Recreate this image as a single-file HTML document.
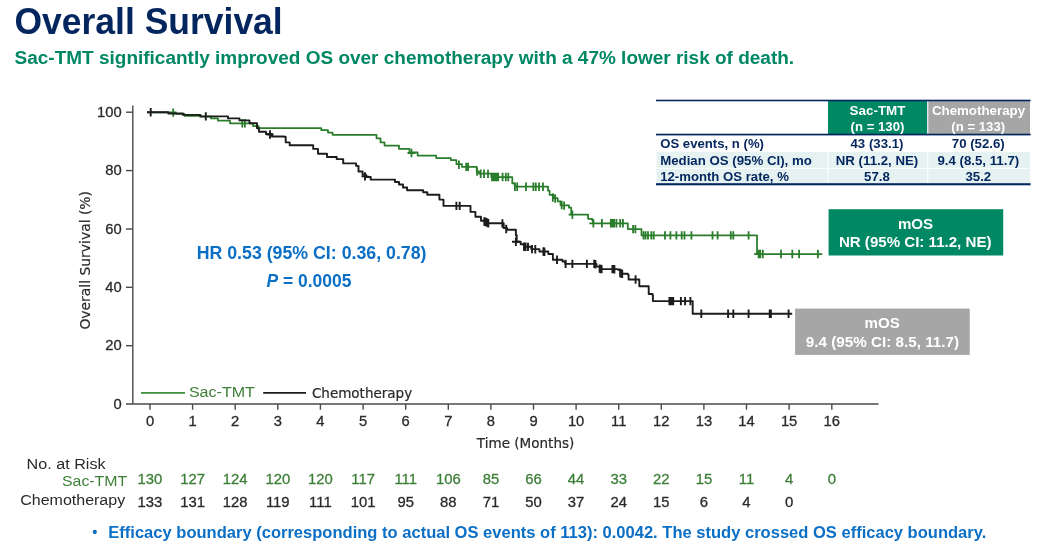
<!DOCTYPE html>
<html lang="en">
<head>
<meta charset="utf-8">
<title>Overall Survival</title>
<style>
html,body{margin:0;padding:0;background:#fff;}
body{width:1045px;height:556px;overflow:hidden;font-family:"Liberation Sans", Arial, Helvetica, sans-serif;}
svg{display:block;will-change:transform;}
text{white-space:pre;}
</style>
</head>
<body>
<svg width="1045" height="556" viewBox="0 0 1045 556">
<rect width="1045" height="556" fill="#ffffff"/>
<text x="14.5" y="34.1" font-family='"Liberation Sans", Arial, Helvetica, sans-serif' font-size="36.4" fill="#04265f" font-weight="bold" textLength="268.2" lengthAdjust="spacingAndGlyphs">Overall Survival</text>
<text x="14.6" y="63.6" font-family='"Liberation Sans", Arial, Helvetica, sans-serif' font-size="18.9" fill="#008764" font-weight="bold" textLength="779.5" lengthAdjust="spacingAndGlyphs">Sac-TMT significantly improved OS over chemotherapy with a 47% lower risk of death.</text>
<g id="stats">
<rect x="828" y="101" width="99.5" height="33.5" fill="#008764"/>
<rect x="927.5" y="101" width="102.5" height="33.5" fill="#a6a6a6"/>
<rect x="656.6" y="151.8" width="373.4" height="32" fill="#e5f2f1"/>
<rect x="656.6" y="167.8" width="373.4" height="1" fill="#ffffff"/>
<rect x="827.3" y="151.8" width="1" height="32" fill="#ffffff"/>
<rect x="927.3" y="101" width="1" height="83" fill="#ffffff"/>
<rect x="656" y="99.7" width="374.6" height="1.6" fill="#04265f"/>
<rect x="656" y="133.7" width="374.6" height="1.7" fill="#04265f"/>
<rect x="656" y="183.2" width="374.6" height="2.1" fill="#04265f"/>
<text x="877.5" y="114.7" font-family='"Liberation Sans", Arial, Helvetica, sans-serif' font-size="13.3" fill="#fff" font-weight="bold" text-anchor="middle" textLength="55.9" lengthAdjust="spacingAndGlyphs">Sac-TMT</text>
<text x="877.5" y="130.6" font-family='"Liberation Sans", Arial, Helvetica, sans-serif' font-size="13.3" fill="#fff" font-weight="bold" text-anchor="middle" textLength="53.8" lengthAdjust="spacingAndGlyphs">(n = 130)</text>
<text x="978.5" y="114.7" font-family='"Liberation Sans", Arial, Helvetica, sans-serif' font-size="13.3" fill="#fff" font-weight="bold" text-anchor="middle" textLength="93.2" lengthAdjust="spacingAndGlyphs">Chemotherapy</text>
<text x="978.2" y="130.6" font-family='"Liberation Sans", Arial, Helvetica, sans-serif' font-size="13.3" fill="#fff" font-weight="bold" text-anchor="middle" textLength="53.8" lengthAdjust="spacingAndGlyphs">(n = 133)</text>
<text x="660.2" y="148.4" font-family='"Liberation Sans", Arial, Helvetica, sans-serif' font-size="13.3" fill="#04265f" font-weight="bold" textLength="103.8" lengthAdjust="spacingAndGlyphs">OS events, n (%)</text>
<text x="877.0" y="148.4" font-family='"Liberation Sans", Arial, Helvetica, sans-serif' font-size="13.3" fill="#04265f" font-weight="bold" text-anchor="middle" textLength="53.0" lengthAdjust="spacingAndGlyphs">43 (33.1)</text>
<text x="978.3" y="148.4" font-family='"Liberation Sans", Arial, Helvetica, sans-serif' font-size="13.3" fill="#04265f" font-weight="bold" text-anchor="middle" textLength="53.0" lengthAdjust="spacingAndGlyphs">70 (52.6)</text>
<text x="660.2" y="164.9" font-family='"Liberation Sans", Arial, Helvetica, sans-serif' font-size="13.3" fill="#04265f" font-weight="bold" textLength="151.6" lengthAdjust="spacingAndGlyphs">Median OS (95% CI), mo</text>
<text x="877.0" y="164.9" font-family='"Liberation Sans", Arial, Helvetica, sans-serif' font-size="13.3" fill="#04265f" font-weight="bold" text-anchor="middle" textLength="82.5" lengthAdjust="spacingAndGlyphs">NR (11.2, NE)</text>
<text x="978.3" y="164.9" font-family='"Liberation Sans", Arial, Helvetica, sans-serif' font-size="13.3" fill="#04265f" font-weight="bold" text-anchor="middle" textLength="81.8" lengthAdjust="spacingAndGlyphs">9.4 (8.5, 11.7)</text>
<text x="660.2" y="180.6" font-family='"Liberation Sans", Arial, Helvetica, sans-serif' font-size="13.3" fill="#04265f" font-weight="bold" textLength="128.7" lengthAdjust="spacingAndGlyphs">12-month OS rate, %</text>
<text x="877.0" y="180.6" font-family='"Liberation Sans", Arial, Helvetica, sans-serif' font-size="13.3" fill="#04265f" font-weight="bold" text-anchor="middle" textLength="25.8" lengthAdjust="spacingAndGlyphs">57.8</text>
<text x="978.3" y="180.6" font-family='"Liberation Sans", Arial, Helvetica, sans-serif' font-size="13.3" fill="#04265f" font-weight="bold" text-anchor="middle" textLength="25.8" lengthAdjust="spacingAndGlyphs">35.2</text>
</g>
<rect x="828.6" y="209.2" width="174.6" height="46.3" fill="#008764"/>
<text x="915.5" y="228.7" font-family='"Liberation Sans", Arial, Helvetica, sans-serif' font-size="15.1" fill="#fff" font-weight="bold" text-anchor="middle" textLength="35.2" lengthAdjust="spacingAndGlyphs">mOS</text>
<text x="915.2" y="246.9" font-family='"Liberation Sans", Arial, Helvetica, sans-serif' font-size="15.1" fill="#fff" font-weight="bold" text-anchor="middle" textLength="152.6" lengthAdjust="spacingAndGlyphs">NR (95% CI: 11.2, NE)</text>
<rect x="795.1" y="308.6" width="174.6" height="46.3" fill="#a6a6a6"/>
<text x="882.2" y="328.1" font-family='"Liberation Sans", Arial, Helvetica, sans-serif' font-size="15.1" fill="#fff" font-weight="bold" text-anchor="middle" textLength="35.2" lengthAdjust="spacingAndGlyphs">mOS</text>
<text x="882.4" y="346.5" font-family='"Liberation Sans", Arial, Helvetica, sans-serif' font-size="15.1" fill="#fff" font-weight="bold" text-anchor="middle" textLength="153.2" lengthAdjust="spacingAndGlyphs">9.4 (95% CI: 8.5, 11.7)</text>
<text x="311.6" y="259.1" font-family='"Liberation Sans", Arial, Helvetica, sans-serif' font-size="17.6" fill="#0b6fc6" font-weight="bold" text-anchor="middle" textLength="229.8" lengthAdjust="spacingAndGlyphs">HR 0.53 (95% CI: 0.36, 0.78)</text>
<text x="308.9" y="286.5" font-family='"Liberation Sans", Arial, Helvetica, sans-serif' font-size="17.6" fill="#0b6fc6" font-weight="bold" text-anchor="middle" textLength="85" lengthAdjust="spacingAndGlyphs"><tspan font-style="italic">P</tspan> = 0.0005</text>
<text x="94.9" y="537.2" font-family='"Liberation Sans", Arial, Helvetica, sans-serif' font-size="14.5" fill="#0b6fc6" font-weight="bold" text-anchor="middle">•</text>
<text x="108.3" y="538.0" font-family='"Liberation Sans", Arial, Helvetica, sans-serif' font-size="16.6" fill="#0b6fc6" font-weight="bold" textLength="878.0" lengthAdjust="spacingAndGlyphs">Efficacy boundary (corresponding to actual OS events of 113): 0.0042. The study crossed OS efficacy boundary.</text>
<g stroke="#4a4a4a" stroke-width="1.4" fill="none">
<path d="M132.8 105.5V404.05"/>
<path d="M126 404.05H878.5"/>
<path d="M126 345.7H132.8"/>
<path d="M126 287.3H132.8"/>
<path d="M126 229.0H132.8"/>
<path d="M126 170.6H132.8"/>
<path d="M126 112.2H132.8"/>
<path d="M150.0 404.05V409.7"/>
<path d="M192.6 404.05V409.7"/>
<path d="M235.2 404.05V409.7"/>
<path d="M277.8 404.05V409.7"/>
<path d="M320.4 404.05V409.7"/>
<path d="M363.1 404.05V409.7"/>
<path d="M405.7 404.05V409.7"/>
<path d="M448.3 404.05V409.7"/>
<path d="M490.9 404.05V409.7"/>
<path d="M533.5 404.05V409.7"/>
<path d="M576.1 404.05V409.7"/>
<path d="M618.7 404.05V409.7"/>
<path d="M661.3 404.05V409.7"/>
<path d="M703.9 404.05V409.7"/>
<path d="M746.5 404.05V409.7"/>
<path d="M789.1 404.05V409.7"/>
<path d="M831.8 404.05V409.7"/>
</g>
<text x="121.6" y="408.6" font-family='"Liberation Sans", Arial, Helvetica, sans-serif' font-size="13.9" fill="#2a2a2a" text-anchor="end" textLength="8.2" lengthAdjust="spacingAndGlyphs" stroke="#2a2a2a" stroke-width="0.28">0</text>
<text x="121.6" y="350.2" font-family='"Liberation Sans", Arial, Helvetica, sans-serif' font-size="13.9" fill="#2a2a2a" text-anchor="end" textLength="16.4" lengthAdjust="spacingAndGlyphs" stroke="#2a2a2a" stroke-width="0.28">20</text>
<text x="121.6" y="291.8" font-family='"Liberation Sans", Arial, Helvetica, sans-serif' font-size="13.9" fill="#2a2a2a" text-anchor="end" textLength="16.4" lengthAdjust="spacingAndGlyphs" stroke="#2a2a2a" stroke-width="0.28">40</text>
<text x="121.6" y="233.5" font-family='"Liberation Sans", Arial, Helvetica, sans-serif' font-size="13.9" fill="#2a2a2a" text-anchor="end" textLength="16.4" lengthAdjust="spacingAndGlyphs" stroke="#2a2a2a" stroke-width="0.28">60</text>
<text x="121.6" y="175.1" font-family='"Liberation Sans", Arial, Helvetica, sans-serif' font-size="13.9" fill="#2a2a2a" text-anchor="end" textLength="16.4" lengthAdjust="spacingAndGlyphs" stroke="#2a2a2a" stroke-width="0.28">80</text>
<text x="121.6" y="116.8" font-family='"Liberation Sans", Arial, Helvetica, sans-serif' font-size="13.9" fill="#2a2a2a" text-anchor="end" textLength="24.6" lengthAdjust="spacingAndGlyphs" stroke="#2a2a2a" stroke-width="0.28">100</text>
<text x="150.0" y="426.2" font-family='"Liberation Sans", Arial, Helvetica, sans-serif' font-size="13.9" fill="#2a2a2a" text-anchor="middle" textLength="8.2" lengthAdjust="spacingAndGlyphs" stroke="#2a2a2a" stroke-width="0.28">0</text>
<text x="192.6" y="426.2" font-family='"Liberation Sans", Arial, Helvetica, sans-serif' font-size="13.9" fill="#2a2a2a" text-anchor="middle" textLength="8.2" lengthAdjust="spacingAndGlyphs" stroke="#2a2a2a" stroke-width="0.28">1</text>
<text x="235.2" y="426.2" font-family='"Liberation Sans", Arial, Helvetica, sans-serif' font-size="13.9" fill="#2a2a2a" text-anchor="middle" textLength="8.2" lengthAdjust="spacingAndGlyphs" stroke="#2a2a2a" stroke-width="0.28">2</text>
<text x="277.8" y="426.2" font-family='"Liberation Sans", Arial, Helvetica, sans-serif' font-size="13.9" fill="#2a2a2a" text-anchor="middle" textLength="8.2" lengthAdjust="spacingAndGlyphs" stroke="#2a2a2a" stroke-width="0.28">3</text>
<text x="320.4" y="426.2" font-family='"Liberation Sans", Arial, Helvetica, sans-serif' font-size="13.9" fill="#2a2a2a" text-anchor="middle" textLength="8.2" lengthAdjust="spacingAndGlyphs" stroke="#2a2a2a" stroke-width="0.28">4</text>
<text x="363.1" y="426.2" font-family='"Liberation Sans", Arial, Helvetica, sans-serif' font-size="13.9" fill="#2a2a2a" text-anchor="middle" textLength="8.2" lengthAdjust="spacingAndGlyphs" stroke="#2a2a2a" stroke-width="0.28">5</text>
<text x="405.7" y="426.2" font-family='"Liberation Sans", Arial, Helvetica, sans-serif' font-size="13.9" fill="#2a2a2a" text-anchor="middle" textLength="8.2" lengthAdjust="spacingAndGlyphs" stroke="#2a2a2a" stroke-width="0.28">6</text>
<text x="448.3" y="426.2" font-family='"Liberation Sans", Arial, Helvetica, sans-serif' font-size="13.9" fill="#2a2a2a" text-anchor="middle" textLength="8.2" lengthAdjust="spacingAndGlyphs" stroke="#2a2a2a" stroke-width="0.28">7</text>
<text x="490.9" y="426.2" font-family='"Liberation Sans", Arial, Helvetica, sans-serif' font-size="13.9" fill="#2a2a2a" text-anchor="middle" textLength="8.2" lengthAdjust="spacingAndGlyphs" stroke="#2a2a2a" stroke-width="0.28">8</text>
<text x="533.5" y="426.2" font-family='"Liberation Sans", Arial, Helvetica, sans-serif' font-size="13.9" fill="#2a2a2a" text-anchor="middle" textLength="8.2" lengthAdjust="spacingAndGlyphs" stroke="#2a2a2a" stroke-width="0.28">9</text>
<text x="576.1" y="426.2" font-family='"Liberation Sans", Arial, Helvetica, sans-serif' font-size="13.9" fill="#2a2a2a" text-anchor="middle" textLength="16.4" lengthAdjust="spacingAndGlyphs" stroke="#2a2a2a" stroke-width="0.28">10</text>
<text x="618.7" y="426.2" font-family='"Liberation Sans", Arial, Helvetica, sans-serif' font-size="13.9" fill="#2a2a2a" text-anchor="middle" textLength="15.3" lengthAdjust="spacingAndGlyphs" stroke="#2a2a2a" stroke-width="0.28">11</text>
<text x="661.3" y="426.2" font-family='"Liberation Sans", Arial, Helvetica, sans-serif' font-size="13.9" fill="#2a2a2a" text-anchor="middle" textLength="16.4" lengthAdjust="spacingAndGlyphs" stroke="#2a2a2a" stroke-width="0.28">12</text>
<text x="703.9" y="426.2" font-family='"Liberation Sans", Arial, Helvetica, sans-serif' font-size="13.9" fill="#2a2a2a" text-anchor="middle" textLength="16.4" lengthAdjust="spacingAndGlyphs" stroke="#2a2a2a" stroke-width="0.28">13</text>
<text x="746.5" y="426.2" font-family='"Liberation Sans", Arial, Helvetica, sans-serif' font-size="13.9" fill="#2a2a2a" text-anchor="middle" textLength="16.4" lengthAdjust="spacingAndGlyphs" stroke="#2a2a2a" stroke-width="0.28">14</text>
<text x="789.1" y="426.2" font-family='"Liberation Sans", Arial, Helvetica, sans-serif' font-size="13.9" fill="#2a2a2a" text-anchor="middle" textLength="16.4" lengthAdjust="spacingAndGlyphs" stroke="#2a2a2a" stroke-width="0.28">15</text>
<text x="831.8" y="426.2" font-family='"Liberation Sans", Arial, Helvetica, sans-serif' font-size="13.9" fill="#2a2a2a" text-anchor="middle" textLength="16.4" lengthAdjust="spacingAndGlyphs" stroke="#2a2a2a" stroke-width="0.28">16</text>
<text x="525.6" y="447.5" font-family='"DejaVu Sans", "Liberation Sans", Verdana, sans-serif' font-size="13.4" fill="#2a2a2a" text-anchor="middle" textLength="97.5" lengthAdjust="spacingAndGlyphs" stroke="#2a2a2a" stroke-width="0.2">Time (Months)</text>
<text transform="translate(89.5 260.3) rotate(-90)" font-family='"DejaVu Sans", "Liberation Sans", Verdana, sans-serif' font-size="13.7" fill="#2a2a2a" stroke="#2a2a2a" stroke-width="0.2" text-anchor="middle" textLength="138.6" lengthAdjust="spacingAndGlyphs">Overall Survival (%)</text>
<path d="M141 392.9H185" stroke="#3d9039" stroke-width="1.8"/>
<text x="188.9" y="396.5" font-family='"Liberation Sans", Arial, Helvetica, sans-serif' font-size="15.5" fill="#3d7f38" textLength="66.0" lengthAdjust="spacingAndGlyphs">Sac-TMT</text>
<path d="M263.2 392.9H306" stroke="#1c1c1c" stroke-width="1.9"/>
<text x="311.9" y="398.0" font-family='"DejaVu Sans", "Liberation Sans", Verdana, sans-serif' font-size="13.4" fill="#2a2a2a" textLength="100.3" lengthAdjust="spacingAndGlyphs" stroke="#2a2a2a" stroke-width="0.2">Chemotherapy</text>
<text x="26.6" y="468.7" font-family='"Liberation Sans", Arial, Helvetica, sans-serif' font-size="15.3" fill="#2a2a2a" textLength="79.0" lengthAdjust="spacingAndGlyphs">No. at Risk</text>
<text x="62.0" y="486.1" font-family='"Liberation Sans", Arial, Helvetica, sans-serif' font-size="15.1" fill="#3d7f38" textLength="65.2" lengthAdjust="spacingAndGlyphs">Sac-TMT</text>
<text x="20.2" y="504.5" font-family='"Liberation Sans", Arial, Helvetica, sans-serif' font-size="15.3" fill="#2a2a2a" textLength="105.0" lengthAdjust="spacingAndGlyphs">Chemotherapy</text>
<text x="150.0" y="484.4" font-family='"Liberation Sans", Arial, Helvetica, sans-serif' font-size="13.9" fill="#3d7f38" text-anchor="middle" textLength="24.8" lengthAdjust="spacingAndGlyphs" stroke="#3d7f38" stroke-width="0.28">130</text>
<text x="192.6" y="484.4" font-family='"Liberation Sans", Arial, Helvetica, sans-serif' font-size="13.9" fill="#3d7f38" text-anchor="middle" textLength="24.8" lengthAdjust="spacingAndGlyphs" stroke="#3d7f38" stroke-width="0.28">127</text>
<text x="235.2" y="484.4" font-family='"Liberation Sans", Arial, Helvetica, sans-serif' font-size="13.9" fill="#3d7f38" text-anchor="middle" textLength="24.8" lengthAdjust="spacingAndGlyphs" stroke="#3d7f38" stroke-width="0.28">124</text>
<text x="277.8" y="484.4" font-family='"Liberation Sans", Arial, Helvetica, sans-serif' font-size="13.9" fill="#3d7f38" text-anchor="middle" textLength="24.8" lengthAdjust="spacingAndGlyphs" stroke="#3d7f38" stroke-width="0.28">120</text>
<text x="320.4" y="484.4" font-family='"Liberation Sans", Arial, Helvetica, sans-serif' font-size="13.9" fill="#3d7f38" text-anchor="middle" textLength="24.8" lengthAdjust="spacingAndGlyphs" stroke="#3d7f38" stroke-width="0.28">120</text>
<text x="363.1" y="484.4" font-family='"Liberation Sans", Arial, Helvetica, sans-serif' font-size="13.9" fill="#3d7f38" text-anchor="middle" textLength="23.7" lengthAdjust="spacingAndGlyphs" stroke="#3d7f38" stroke-width="0.28">117</text>
<text x="405.7" y="484.4" font-family='"Liberation Sans", Arial, Helvetica, sans-serif' font-size="13.9" fill="#3d7f38" text-anchor="middle" textLength="22.6" lengthAdjust="spacingAndGlyphs" stroke="#3d7f38" stroke-width="0.28">111</text>
<text x="448.3" y="484.4" font-family='"Liberation Sans", Arial, Helvetica, sans-serif' font-size="13.9" fill="#3d7f38" text-anchor="middle" textLength="24.8" lengthAdjust="spacingAndGlyphs" stroke="#3d7f38" stroke-width="0.28">106</text>
<text x="490.9" y="484.4" font-family='"Liberation Sans", Arial, Helvetica, sans-serif' font-size="13.9" fill="#3d7f38" text-anchor="middle" textLength="16.5" lengthAdjust="spacingAndGlyphs" stroke="#3d7f38" stroke-width="0.28">85</text>
<text x="533.5" y="484.4" font-family='"Liberation Sans", Arial, Helvetica, sans-serif' font-size="13.9" fill="#3d7f38" text-anchor="middle" textLength="16.5" lengthAdjust="spacingAndGlyphs" stroke="#3d7f38" stroke-width="0.28">66</text>
<text x="576.1" y="484.4" font-family='"Liberation Sans", Arial, Helvetica, sans-serif' font-size="13.9" fill="#3d7f38" text-anchor="middle" textLength="16.5" lengthAdjust="spacingAndGlyphs" stroke="#3d7f38" stroke-width="0.28">44</text>
<text x="618.7" y="484.4" font-family='"Liberation Sans", Arial, Helvetica, sans-serif' font-size="13.9" fill="#3d7f38" text-anchor="middle" textLength="16.5" lengthAdjust="spacingAndGlyphs" stroke="#3d7f38" stroke-width="0.28">33</text>
<text x="661.3" y="484.4" font-family='"Liberation Sans", Arial, Helvetica, sans-serif' font-size="13.9" fill="#3d7f38" text-anchor="middle" textLength="16.5" lengthAdjust="spacingAndGlyphs" stroke="#3d7f38" stroke-width="0.28">22</text>
<text x="703.9" y="484.4" font-family='"Liberation Sans", Arial, Helvetica, sans-serif' font-size="13.9" fill="#3d7f38" text-anchor="middle" textLength="16.5" lengthAdjust="spacingAndGlyphs" stroke="#3d7f38" stroke-width="0.28">15</text>
<text x="746.5" y="484.4" font-family='"Liberation Sans", Arial, Helvetica, sans-serif' font-size="13.9" fill="#3d7f38" text-anchor="middle" textLength="15.4" lengthAdjust="spacingAndGlyphs" stroke="#3d7f38" stroke-width="0.28">11</text>
<text x="789.1" y="484.4" font-family='"Liberation Sans", Arial, Helvetica, sans-serif' font-size="13.9" fill="#3d7f38" text-anchor="middle" textLength="8.3" lengthAdjust="spacingAndGlyphs" stroke="#3d7f38" stroke-width="0.28">4</text>
<text x="831.8" y="484.4" font-family='"Liberation Sans", Arial, Helvetica, sans-serif' font-size="13.9" fill="#3d7f38" text-anchor="middle" textLength="8.3" lengthAdjust="spacingAndGlyphs" stroke="#3d7f38" stroke-width="0.28">0</text>
<text x="150.0" y="506.8" font-family='"Liberation Sans", Arial, Helvetica, sans-serif' font-size="13.9" fill="#2a2a2a" text-anchor="middle" textLength="24.8" lengthAdjust="spacingAndGlyphs" stroke="#2a2a2a" stroke-width="0.28">133</text>
<text x="192.6" y="506.8" font-family='"Liberation Sans", Arial, Helvetica, sans-serif' font-size="13.9" fill="#2a2a2a" text-anchor="middle" textLength="24.8" lengthAdjust="spacingAndGlyphs" stroke="#2a2a2a" stroke-width="0.28">131</text>
<text x="235.2" y="506.8" font-family='"Liberation Sans", Arial, Helvetica, sans-serif' font-size="13.9" fill="#2a2a2a" text-anchor="middle" textLength="24.8" lengthAdjust="spacingAndGlyphs" stroke="#2a2a2a" stroke-width="0.28">128</text>
<text x="277.8" y="506.8" font-family='"Liberation Sans", Arial, Helvetica, sans-serif' font-size="13.9" fill="#2a2a2a" text-anchor="middle" textLength="23.7" lengthAdjust="spacingAndGlyphs" stroke="#2a2a2a" stroke-width="0.28">119</text>
<text x="320.4" y="506.8" font-family='"Liberation Sans", Arial, Helvetica, sans-serif' font-size="13.9" fill="#2a2a2a" text-anchor="middle" textLength="22.6" lengthAdjust="spacingAndGlyphs" stroke="#2a2a2a" stroke-width="0.28">111</text>
<text x="363.1" y="506.8" font-family='"Liberation Sans", Arial, Helvetica, sans-serif' font-size="13.9" fill="#2a2a2a" text-anchor="middle" textLength="24.8" lengthAdjust="spacingAndGlyphs" stroke="#2a2a2a" stroke-width="0.28">101</text>
<text x="405.7" y="506.8" font-family='"Liberation Sans", Arial, Helvetica, sans-serif' font-size="13.9" fill="#2a2a2a" text-anchor="middle" textLength="16.5" lengthAdjust="spacingAndGlyphs" stroke="#2a2a2a" stroke-width="0.28">95</text>
<text x="448.3" y="506.8" font-family='"Liberation Sans", Arial, Helvetica, sans-serif' font-size="13.9" fill="#2a2a2a" text-anchor="middle" textLength="16.5" lengthAdjust="spacingAndGlyphs" stroke="#2a2a2a" stroke-width="0.28">88</text>
<text x="490.9" y="506.8" font-family='"Liberation Sans", Arial, Helvetica, sans-serif' font-size="13.9" fill="#2a2a2a" text-anchor="middle" textLength="16.5" lengthAdjust="spacingAndGlyphs" stroke="#2a2a2a" stroke-width="0.28">71</text>
<text x="533.5" y="506.8" font-family='"Liberation Sans", Arial, Helvetica, sans-serif' font-size="13.9" fill="#2a2a2a" text-anchor="middle" textLength="16.5" lengthAdjust="spacingAndGlyphs" stroke="#2a2a2a" stroke-width="0.28">50</text>
<text x="576.1" y="506.8" font-family='"Liberation Sans", Arial, Helvetica, sans-serif' font-size="13.9" fill="#2a2a2a" text-anchor="middle" textLength="16.5" lengthAdjust="spacingAndGlyphs" stroke="#2a2a2a" stroke-width="0.28">37</text>
<text x="618.7" y="506.8" font-family='"Liberation Sans", Arial, Helvetica, sans-serif' font-size="13.9" fill="#2a2a2a" text-anchor="middle" textLength="16.5" lengthAdjust="spacingAndGlyphs" stroke="#2a2a2a" stroke-width="0.28">24</text>
<text x="661.3" y="506.8" font-family='"Liberation Sans", Arial, Helvetica, sans-serif' font-size="13.9" fill="#2a2a2a" text-anchor="middle" textLength="16.5" lengthAdjust="spacingAndGlyphs" stroke="#2a2a2a" stroke-width="0.28">15</text>
<text x="703.9" y="506.8" font-family='"Liberation Sans", Arial, Helvetica, sans-serif' font-size="13.9" fill="#2a2a2a" text-anchor="middle" textLength="8.3" lengthAdjust="spacingAndGlyphs" stroke="#2a2a2a" stroke-width="0.28">6</text>
<text x="746.5" y="506.8" font-family='"Liberation Sans", Arial, Helvetica, sans-serif' font-size="13.9" fill="#2a2a2a" text-anchor="middle" textLength="8.3" lengthAdjust="spacingAndGlyphs" stroke="#2a2a2a" stroke-width="0.28">4</text>
<text x="789.1" y="506.8" font-family='"Liberation Sans", Arial, Helvetica, sans-serif' font-size="13.9" fill="#2a2a2a" text-anchor="middle" textLength="8.3" lengthAdjust="spacingAndGlyphs" stroke="#2a2a2a" stroke-width="0.28">0</text>
<path d="M147.0 112.4H176.0V113.8H184.4V115.8H200.0V116.6H211.0V118.4H218.0V120.7H230.0V123.3H253.0V126.0H258.7V128.0H321.3V130.2H328.0V132.5H332.6V134.8H376.5V138.3H380.5V142.4H384.5V145.6H399.0V148.9H409.5V152.4H417.6V155.6H436.2V158.0H450.8V160.0H456.4V164.0H462.0V166.9H476.7V171.3H479.0V173.7H491.3V177.0H512.3V183.4H514.7V186.7H548.0V190.7H549.6V194.8H553.5V198.0H557.7V201.3H560.5V205.3H569.0V207.7H571.2V214.7H588.1V218.8H592.1V220.1H593.0V223.3H627.8V229.1H641.5V235.4H757.0V254.0H822.3" fill="none" stroke="#287c2a" stroke-width="1.75" stroke-linejoin="round"/>
<path d="M173.2 108.4v8.4M242.3 119.1v8.4M244.9 119.1v8.4M411.5 148.8v8.4M458.9 160.6v8.4M466.2 162.7v8.4M468.1 162.7v8.4M477.0 167.3v8.4M480.7 169.5v8.4M484.0 169.5v8.4M488.0 169.7v8.4M492.0 172.8v8.4M493.2 172.8v8.4M494.4 172.8v8.4M495.6 172.8v8.4M496.8 172.8v8.4M498.2 172.8v8.4M502.6 172.8v8.4M505.8 172.8v8.4M508.3 172.8v8.4M514.9 182.5v8.4M517.2 182.5v8.4M526.0 182.5v8.4M533.4 182.5v8.4M535.8 182.5v8.4M539.0 182.5v8.4M543.0 182.5v8.4M552.8 193.3v8.4M555.2 194.3v8.4M561.7 200.8v8.4M564.1 201.4v8.4M572.4 210.5v8.4M593.4 219.1v8.4M601.9 219.1v8.4M610.8 219.1v8.4M611.9 219.1v8.4M613.0 219.1v8.4M614.1 219.1v8.4M616.4 219.1v8.4M620.2 219.1v8.4M622.9 219.1v8.4M633.1 224.9v8.4M635.4 224.9v8.4M643.5 231.2v8.4M645.6 231.2v8.4M648.0 231.2v8.4M651.3 231.2v8.4M653.7 231.2v8.4M665.0 231.2v8.4M670.4 231.2v8.4M676.4 231.2v8.4M681.7 231.2v8.4M684.5 231.2v8.4M691.4 231.2v8.4M712.5 231.2v8.4M717.6 231.2v8.4M730.8 231.2v8.4M733.3 231.2v8.4M748.6 231.2v8.4M758.6 249.8v8.4M760.2 249.8v8.4M762.8 249.8v8.4M781.0 249.8v8.4M792.3 249.8v8.4M799.1 249.8v8.4M817.9 249.8v8.4M568.6 214.7H572.4M589.3 223.3H593.4M754.3 254H758M407.5 153H415.5" fill="none" stroke="#287c2a" stroke-width="1.8"/>
<path d="M147.0 112.3H168.3V113.5H183.0V114.9H200.5V116.4H228.0V118.4H239.5V120.4H249.5V123.3H257.0V128.3H259.0V131.7H266.0V134.0H272.0V136.5H284.0V136.7H285.7V142.4H289.7V145.3H313.2V148.9H318.0V153.7H327.0V157.0H336.7V159.1H343.2V163.4H356.1V165.9H358.5V171.5H362.6V174.8H366.0V177.0H370.7V179.6H395.0V182.0H399.0V184.5H403.0V187.5H407.1V190.2H423.2V192.3H427.3V194.8H439.4V199.6H443.5V205.9H470.5V211.9H475.4V216.7H481.0V220.8H488.0V223.2H503.7V228.0H507.0V229.7H515.9V235.3H516.7V241.8H520.7V244.3H524.0V246.7H531.3V249.1H539.4V251.5H548.3V254.0H552.9V259.8H562.5V261.5H565.3V263.9H596.5V266.6H600.1V269.1H618.0V269.8H620.5V273.8H627.8V274.6H628.6V279.5H639.3V286.2H648.7V294.0H652.5V295.0H652.9V301.1H692.7V313.7H792.2" fill="none" stroke="#1c1c1c" stroke-width="1.9" stroke-linejoin="round"/>
<path d="M150.7 108.1v8.4M205.8 112.2v8.4M270.0 130.3v8.4M365.0 172.2v8.4M456.4 201.7v8.4M459.7 201.7v8.4M484.3 217.3v8.4M485.3 217.6v8.4M486.3 218.0v8.4M487.3 218.4v8.4M488.3 219.0v8.4M502.4 219.3v8.4M506.2 224.8v8.4M515.9 237.6v8.4M524.0 242.5v8.4M525.6 242.5v8.4M528.0 242.7v8.4M532.0 244.9v8.4M535.3 245.1v8.4M543.4 247.3v8.4M544.4 247.5v8.4M557.0 255.6v8.4M565.6 259.7v8.4M572.4 259.7v8.4M586.9 259.7v8.4M594.2 259.7v8.4M595.4 260.0v8.4M599.6 264.4v8.4M600.6 264.8v8.4M601.6 264.9v8.4M612.4 264.9v8.4M613.4 264.9v8.4M614.4 265.1v8.4M620.2 268.8v8.4M621.2 269.4v8.4M622.2 269.6v8.4M635.6 275.3v8.4M669.4 296.9v8.4M671.3 296.9v8.4M673.2 296.9v8.4M680.9 296.9v8.4M685.1 296.9v8.4M690.4 296.9v8.4M701.3 309.5v8.4M728.1 309.5v8.4M733.3 309.5v8.4M748.6 309.5v8.4M769.7 309.5v8.4M770.9 309.5v8.4M788.6 309.5v8.4M512 241.8H520M266.5 134.5H273.5M361.5 176.4H368.5" fill="none" stroke="#1c1c1c" stroke-width="1.9"/>
</svg>
</body>
</html>
